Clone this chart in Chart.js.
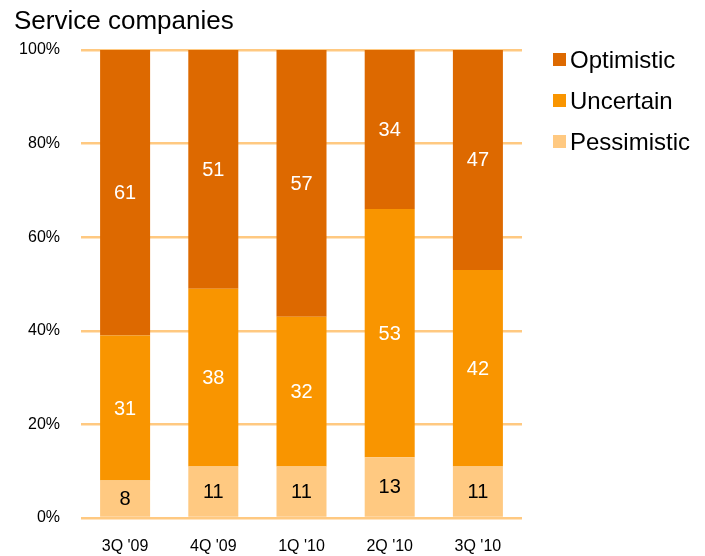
<!DOCTYPE html>
<html><head><meta charset="utf-8">
<script src="https://cdn.jsdelivr.net/npm/chart.js@4"></script>
<style>
html,body{margin:0;padding:0;background:#fff;font-family:"Liberation Sans",Arial,sans-serif;}
#wrap{position:relative;width:705px;height:556px;}
#title{position:absolute;left:14px;top:3px;font-size:26px;color:#000;line-height:34px;}
#legend{position:absolute;left:553px;top:39px;}
.li{display:flex;align-items:center;height:41px;font-size:24px;color:#000;}
.sw{width:13px;height:13px;margin-right:4px;}
canvas{position:absolute;left:0;top:0;}
</style></head><body>
<div id="wrap">
<canvas id="c" width="705" height="556"></canvas>
<div id="title">Service companies</div>
<div id="legend"></div>
</div>
<script>
const categories = ["3Q '09","4Q '09","1Q '10","2Q '10","3Q '10"];
const pessimistic = [8,11,11,13,11];
const uncertain = [31,38,32,53,42];
const optimistic = [61,51,57,34,47];
const yTicks = [0,20,40,60,80,100];

const colors = {Optimistic:"#DD6900", Uncertain:"#F99500", Pessimistic:"#FFC981"};
const labelColors = {Optimistic:"#fff", Uncertain:"#fff", Pessimistic:"#000"};

const legendEl = document.getElementById('legend');
["Optimistic","Uncertain","Pessimistic"].forEach(n=>{
  const d=document.createElement('div');d.className='li';
  d.innerHTML='<span class="sw" style="background:'+colors[n]+'"></span>'+n;
  legendEl.appendChild(d);
});

const valueLabels = {
  id:'valueLabels',
  afterDatasetsDraw(chart){
    const ctx=chart.ctx;
    ctx.save();
    ctx.font='20px "Liberation Sans", Arial, sans-serif';
    ctx.textAlign='center';ctx.textBaseline='middle';
    chart.data.datasets.forEach((ds,i)=>{
      const meta=chart.getDatasetMeta(i);
      meta.data.forEach((bar,j)=>{
        const y=(bar.y+bar.base)/2;
        ctx.fillStyle=labelColors[ds.label];
        ctx.fillText(String(ds.data[j]),bar.x,y+1);
      });
    });
    ctx.restore();
  }
};

new Chart(document.getElementById('c'),{
  type:'bar',
  data:{labels:categories,datasets:[
    {label:'Pessimistic',data:pessimistic,backgroundColor:colors.Pessimistic},
    {label:'Uncertain',data:uncertain,backgroundColor:colors.Uncertain},
    {label:'Optimistic',data:optimistic,backgroundColor:colors.Optimistic}
  ]},
  options:{
    responsive:false,animation:false,
    layout:{padding:{left:0,right:183,top:50,bottom:0}},
    datasets:{bar:{categoryPercentage:1,barPercentage:0.567}},
    plugins:{legend:{display:false},tooltip:{enabled:false}},
    scales:{
      x:{stacked:true,
        grid:{display:false,drawTicks:false},border:{display:false},
        ticks:{color:'#000',font:{family:'"Liberation Sans", Arial, sans-serif',size:16},padding:19},
        afterFit(s){s.height=38;}
      },
      y:{stacked:true,min:0,max:100,
        afterBuildTicks(s){s.ticks=yTicks.map(v=>({value:v}));},
        grid:{color:'#FFC981',lineWidth:2.5,drawTicks:false},border:{display:false},
        ticks:{color:'#000',font:{family:'"Liberation Sans", Arial, sans-serif',size:16},padding:21,callback:v=>v+'%'},
        afterFit(s){s.width=81;}
      }
    }
  },
  plugins:[valueLabels]
});
</script>
</body></html>
